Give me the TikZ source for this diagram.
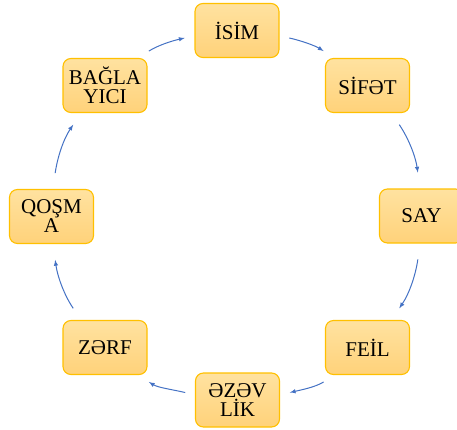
\documentclass[tikz,border=0pt]{standalone}
\usepackage{fontspec}
\setmainfont{Liberation Serif}
\usetikzlibrary{positioning}

\definecolor{boxedge}{RGB}{255,192,0}
\definecolor{boxtop}{RGB}{255,226,160}
\definecolor{boxbot}{RGB}{255,210,122}
\definecolor{arrowblue}{RGB}{68,114,196}

\begin{document}
\begin{tikzpicture}[
x = 1pt, y = 1pt,
part/.style={
  draw=boxedge,
  line width=1.1pt,
  top color=boxtop,
  bottom color=boxbot,
  rounded corners=8pt,
  minimum width=84pt,
  minimum height=54pt,
  inner sep=0pt,
  align=center,
  font=\fontsize{21}{19}\selectfont
  },
link/.style={
  draw=arrowblue,
  line width=1pt,
  ->
  },
>=latex
]
\useasboundingbox (0,0) rectangle (457,429);

% parts of speech round the circle
\node[part] (isim)  at (237,398.5) {İSİM};
\node[part] (sifet) at (367.5,343.5) {SİFƏT};
\node[part] (say)   at (421.5,213) {SAY};
\node[part] (feil)  at (367.5,81.5) {FEİL};
\node[part] (ezev)  at (237.5,29) {ƏZƏV\\LİK};
\node[part] (zerf)  at (105,81.5) {ZƏRF};
\node[part] (qosma) at (51.5,212.5) {QOŞM\\A};
\node[part] (bagla) at (105,343.5) {BAĞLA\\YICI};

\draw[link, shorten <=10pt, shorten >=13pt] (isim.353) to[out=-13, in=148] (sifet.140);
\draw[link, shorten <=14pt, shorten >=16pt] (sifet.311) to[out=-56, in=98] (say.93);
\draw[link, shorten <=16pt, shorten >=14pt] (say.267) to[out=-98, in=56] (feil.49);
\draw[link, shorten <=13pt, shorten >=10pt] (feil.220) to[out=212, in=13] (ezev.7);
\draw[link, shorten <=10pt, shorten >=13pt] (ezev.173) to[out=167, in=328] (zerf.320);
\draw[link, shorten <=14pt, shorten >=16pt] (zerf.131) to[out=124, in=278] (qosma.273);
\draw[link, shorten <=16pt, shorten >=14pt] (qosma.87) to[out=82, in=236] (bagla.229);
\draw[link, shorten <=13pt, shorten >=10pt] (bagla.40) to[out=32, in=193] (isim.187);

\end{tikzpicture}
\end{document}
